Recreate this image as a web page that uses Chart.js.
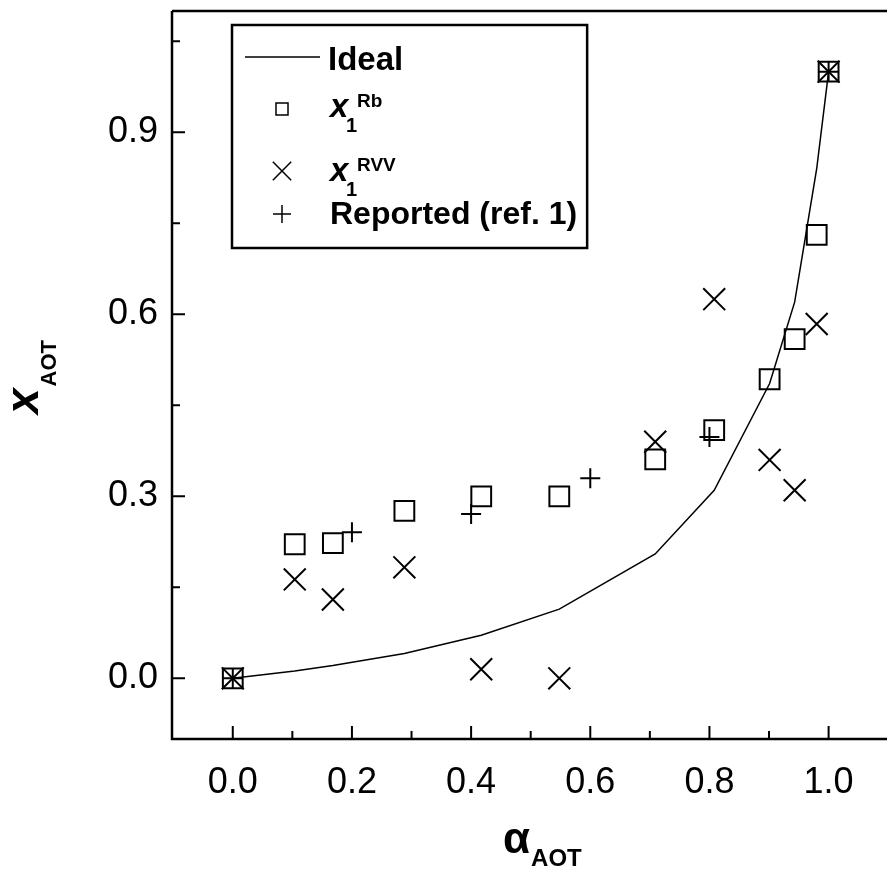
<!DOCTYPE html>
<html>
<head>
<meta charset="utf-8">
<script src="https://cdn.jsdelivr.net/npm/chart.js@4.4.1/dist/chart.umd.min.js"></script>
<style>
  html, body { margin: 0; padding: 0; background: #fff; overflow: hidden; }
  #grafico { display: block; }
</style>
</head>
<body>
<canvas id="grafico" width="887" height="873"></canvas>
<script>
// alpha_AOT values of the measured points
var alfaMedidos = [0, 0.104, 0.168, 0.288, 0.417, 0.548, 0.709, 0.808, 0.901, 0.943, 0.980, 1.0];
var xRb  = [0, 0.221, 0.223, 0.276, 0.300, 0.300, 0.361, 0.409, 0.493, 0.559, 0.731, 1.0];
var xRVV = [0, 0.163, 0.130, 0.183, 0.015, 0.000, 0.390, 0.625, 0.360, 0.310, 0.584, 1.0];
// ideal curve, read at the same alphas
var xIdeal = [0, 0.012, 0.021, 0.041, 0.071, 0.114, 0.205, 0.310, 0.486, 0.620, 0.840, 1.0];
// reported values (ref. 1)
var alfaRef = [0, 0.2, 0.4, 0.6, 0.8, 1.0];
var xRef    = [0, 0.241, 0.271, 0.330, 0.398, 1.0];

var xTicks = [0, 0.1, 0.2, 0.3, 0.4, 0.5, 0.6, 0.7, 0.8, 0.9, 1.0];
var xTickLabels = ['0.0', '', '0.2', '', '0.4', '', '0.6', '', '0.8', '', '1.0'];
var yTicks = [0, 0.15, 0.3, 0.45, 0.6, 0.75, 0.9, 1.05];
var yTickLabels = ['0.0', '', '0.3', '', '0.6', '', '0.9', ''];

function pares(xs, ys){
    var out = [];
    for (var i = 0; i < xs.length; i++) out.push({x: xs[i], y: ys[i]});
    return out;
}

Chart.defaults.font.family = '"Liberation Sans", Arial, sans-serif';
Chart.defaults.color = '#000';

// frame, inward ticks, legend box and axis titles
var decoracao = {
    id: 'decoracao',
    afterDraw: function(chart){
        var ctx = chart.ctx, a = chart.chartArea;
        var sx = chart.scales.x, sy = chart.scales.y;
        ctx.save();
        ctx.strokeStyle = '#000';
        ctx.fillStyle = '#000';

        // axes + top border
        ctx.lineWidth = 2.5;
        ctx.beginPath();
        ctx.moveTo(a.left, a.top); ctx.lineTo(a.right, a.top);
        ctx.moveTo(a.left, a.top); ctx.lineTo(a.left, a.bottom); ctx.lineTo(a.right, a.bottom);
        ctx.stroke();

        ctx.lineWidth = 2;
        ctx.beginPath();
        sx.ticks.forEach(function(t, i){
            var px = sx.getPixelForValue(t.value);
            var len = xTickLabels[i] ? 13 : 8;
            ctx.moveTo(px, a.bottom); ctx.lineTo(px, a.bottom - len);
        });
        sy.ticks.forEach(function(t, i){
            var py = sy.getPixelForValue(t.value);
            var len = yTickLabels[i] ? 13 : 8;
            ctx.moveTo(a.left, py); ctx.lineTo(a.left + len, py);
        });
        ctx.stroke();

        // legend
        var boxL = 232, boxT = 25, boxB = 248;
        ctx.font = 'bold 32px "Liberation Sans", Arial, sans-serif';
        var boxR = 330 + ctx.measureText('Reported (ref. 1)').width + 10;
        ctx.fillStyle = '#fff';
        ctx.fillRect(boxL, boxT, boxR - boxL, boxB - boxT);
        ctx.lineWidth = 2.5;
        ctx.strokeRect(boxL, boxT, boxR - boxL, boxB - boxT);

        ctx.lineWidth = 1.5;
        ctx.beginPath(); ctx.moveTo(245, 57); ctx.lineTo(320, 57); ctx.stroke();

        ctx.fillStyle = 'rgba(0,0,0,0)';
        Chart.helpers.drawPoint(ctx, {pointStyle: 'rect', radius: 8.5, borderWidth: 1.5}, 282, 109);
        Chart.helpers.drawPoint(ctx, {pointStyle: 'crossRot', radius: 13, borderWidth: 1.5}, 282, 171);
        Chart.helpers.drawPoint(ctx, {pointStyle: 'cross', radius: 9, borderWidth: 1.5}, 282, 214);

        ctx.fillStyle = '#000';
        ctx.textBaseline = 'alphabetic';
        ctx.textAlign = 'left';
        ctx.font = 'bold 33px "Liberation Sans", Arial, sans-serif';
        ctx.fillText('Ideal', 328, 70);

        function rotulo(sup, base){
            ctx.font = 'bold italic 33px "Liberation Sans", Arial, sans-serif';
            ctx.fillText('x', 330, base);
            ctx.font = 'bold 20px "Liberation Sans", Arial, sans-serif';
            ctx.fillText('1', 346, base + 15);
            ctx.font = 'bold 19px "Liberation Sans", Arial, sans-serif';
            ctx.fillText(sup, 357, base - 10);
        }
        rotulo('Rb', 117);
        rotulo('RVV', 181);

        ctx.font = 'bold 32px "Liberation Sans", Arial, sans-serif';
        ctx.fillText('Reported (ref. 1)', 330, 224);

        // x axis title
        ctx.font = 'bold 44px "Liberation Sans", Arial, sans-serif';
        ctx.fillText('\u03b1', 503, 853);
        var wa = ctx.measureText('\u03b1').width;
        ctx.font = 'bold 24px "Liberation Sans", Arial, sans-serif';
        ctx.fillText('AOT', 503 + wa + 1, 866);

        // y axis title
        ctx.translate(38, 414);
        ctx.rotate(-Math.PI / 2);
        ctx.font = 'bold italic 46px "Liberation Sans", Arial, sans-serif';
        ctx.fillText('x', 0, 0);
        var wx = ctx.measureText('x').width;
        ctx.font = 'bold 22px "Liberation Sans", Arial, sans-serif';
        ctx.fillText('AOT', wx + 2, 18);

        ctx.restore();
    }
};

var ctx = document.getElementById('grafico').getContext('2d');
var grafico = new Chart(ctx, {
    type: 'scatter',
    data: {
        datasets: [
            {
                label: 'Ideal',
                type: 'line',
                data: pares(alfaMedidos, xIdeal),
                borderColor: '#000',
                borderWidth: 1.5,
                pointRadius: 0,
                tension: 0,
                fill: false
            },
            {
                label: 'x1 Rb',
                data: pares(alfaMedidos, xRb),
                pointStyle: 'rect',
                pointRadius: 14,
                borderColor: '#000',
                backgroundColor: 'rgba(0,0,0,0)',
                borderWidth: 2
            },
            {
                label: 'x1 RVV',
                data: pares(alfaMedidos, xRVV),
                pointStyle: 'crossRot',
                pointRadius: 15.5,
                borderColor: '#000',
                borderWidth: 2
            },
            {
                label: 'Reported (ref. 1)',
                data: pares(alfaRef, xRef),
                pointStyle: 'cross',
                pointRadius: 10,
                borderColor: '#000',
                borderWidth: 2
            }
        ]
    },
    options: {
        responsive: false,
        animation: false,
        layout: { autoPadding: false, padding: { left: 0, top: 11, right: 0, bottom: 0 } },
        plugins: {
            legend: { display: false },
            tooltip: { enabled: false }
        },
        scales: {
            x: {
                type: 'linear',
                min: -0.102,
                max: 1.098,
                grid: { display: false, drawTicks: false },
                border: { display: false },
                afterBuildTicks: function(scale){
                    scale.ticks = xTicks.map(function(v){ return {value: v}; });
                },
                afterFit: function(scale){
                    scale.height = 134;
                    scale.paddingLeft = 0; scale.paddingRight = 0;
                },
                ticks: {
                    autoSkip: false,
                    maxRotation: 0,
                    padding: 22,
                    font: { size: 36 },
                    callback: function(v, i){ return xTickLabels[i]; }
                }
            },
            y: {
                type: 'linear',
                min: -0.1,
                max: 1.1,
                grid: { display: false, drawTicks: false },
                border: { display: false },
                afterBuildTicks: function(scale){
                    scale.ticks = yTicks.map(function(v){ return {value: v}; });
                },
                afterFit: function(scale){
                    scale.width = 172;
                    scale.paddingTop = 0; scale.paddingBottom = 0;
                },
                ticks: {
                    autoSkip: false,
                    padding: 14,
                    font: { size: 36 },
                    callback: function(v, i){ return yTickLabels[i]; }
                }
            }
        }
    },
    plugins: [decoracao]
});
</script>
</body>
</html>
